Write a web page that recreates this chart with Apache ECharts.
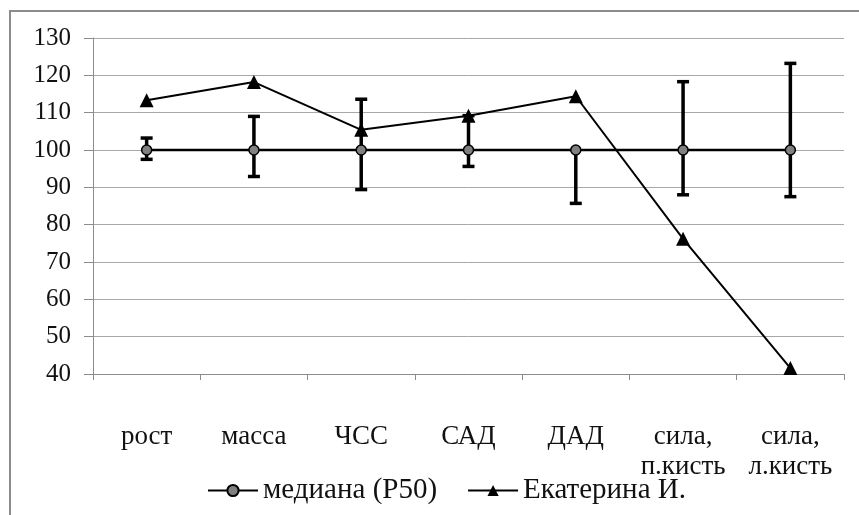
<!DOCTYPE html>
<html>
<head>
<meta charset="utf-8">
<script src="https://cdn.jsdelivr.net/npm/echarts@6/dist/echarts.min.js"></script>
<style>html,body{margin:0;padding:0;background:#fff}#c{width:859px;height:515px}</style>
</head>
<body>
<div id="c"></div>
<script>
const categories = ['рост', 'масса', 'ЧСС', 'САД', 'ДАД', 'сила,\nп.кисть', 'сила,\nл.кисть'];
const median = [100, 100, 100, 100, 100, 100, 100];
const ekaterina = [113.3, 118.2, 105.4, 109.2, 114.4, 76.2, 41.6];
const errUpper = [103.2, 109.0, 113.6, 109.2, 100, 118.3, 123.2];
const errLower = [97.5, 92.9, 89.4, 95.6, 85.7, 88.0, 87.5];
const yTicks = { min: 40, max: 130, interval: 10 };

const errData = categories.map((c, i) => [i, errLower[i], errUpper[i]]);
const FONT = 'Liberation Serif';

const chart = echarts.init(document.getElementById('c'), null, { renderer: 'canvas' });
chart.setOption({
  animation: false,
  backgroundColor: '#fff',
  textStyle: { fontFamily: FONT },
  graphic: [{
    type: 'rect', z: -10,
    shape: { x: 10, y: 11, width: 900, height: 600 },
    style: { fill: 'none', stroke: '#8c8c8c', lineWidth: 2 }
  }],
  grid: { left: 93, right: 15, top: 38, bottom: 141 },
  legend: {
    bottom: 5,
    left: 202,
    itemWidth: 50,
    itemHeight: 14,
    itemGap: 30,
    textStyle: { fontFamily: FONT, fontSize: 29, color: '#111' },
    data: ['медиана (P50)', 'Екатерина И.']
  },
  xAxis: {
    type: 'category',
    data: categories,
    boundaryGap: true,
    axisLine: { lineStyle: { color: '#8c8c8c', width: 1 } },
    axisTick: { show: true, length: 6, lineStyle: { color: '#8c8c8c' } },
    axisLabel: { fontFamily: FONT, fontSize: 27, color: '#111', margin: 48, lineHeight: 30, interval: 0 },
    splitLine: { show: false }
  },
  yAxis: {
    type: 'value',
    min: yTicks.min, max: yTicks.max, interval: yTicks.interval,
    axisLine: { show: true, lineStyle: { color: '#8c8c8c', width: 1 } },
    axisTick: { show: true, length: 9, lineStyle: { color: '#8c8c8c' } },
    axisLabel: { fontFamily: FONT, fontSize: 25, color: '#111', margin: 22 },
    splitLine: { lineStyle: { color: '#a8a8a8', width: 1 } }
  },
  series: [
    {
      type: 'custom',
      name: 'err',
      z: 1,
      data: errData,
      renderItem: function (params, api) {
        const i = api.value(0);
        const lo = api.coord([i, api.value(1)]);
        const hi = api.coord([i, api.value(2)]);
        const mid = api.coord([i, 100]);
        const cw = 6;
        const st = { stroke: '#000', lineWidth: 3.5 };
        const ch = [];
        if (Math.abs(hi[1] - mid[1]) > 0.5) {
          ch.push({ type: 'line', shape: { x1: hi[0], y1: hi[1], x2: mid[0], y2: mid[1] }, style: st });
          ch.push({ type: 'line', shape: { x1: hi[0] - cw, y1: hi[1], x2: hi[0] + cw, y2: hi[1] }, style: st });
        }
        ch.push({ type: 'line', shape: { x1: lo[0], y1: lo[1], x2: mid[0], y2: mid[1] }, style: st });
        ch.push({ type: 'line', shape: { x1: lo[0] - cw, y1: lo[1], x2: lo[0] + cw, y2: lo[1] }, style: st });
        return { type: 'group', children: ch };
      }
    },
    {
      type: 'line',
      name: 'медиана (P50)',
      z: 3,
      data: median,
      symbol: 'circle',
      symbolSize: 10,
      lineStyle: { color: '#000', width: 2.5 },
      itemStyle: { color: '#808080', borderColor: '#000', borderWidth: 1.5 }
    },
    {
      type: 'line',
      name: 'Екатерина И.',
      z: 4,
      data: ekaterina,
      symbol: 'triangle',
      symbolSize: 14,
      lineStyle: { color: '#000', width: 2 },
      itemStyle: { color: '#000', borderColor: '#000', borderWidth: 0 }
    }
  ]
});
</script>
</body>
</html>
